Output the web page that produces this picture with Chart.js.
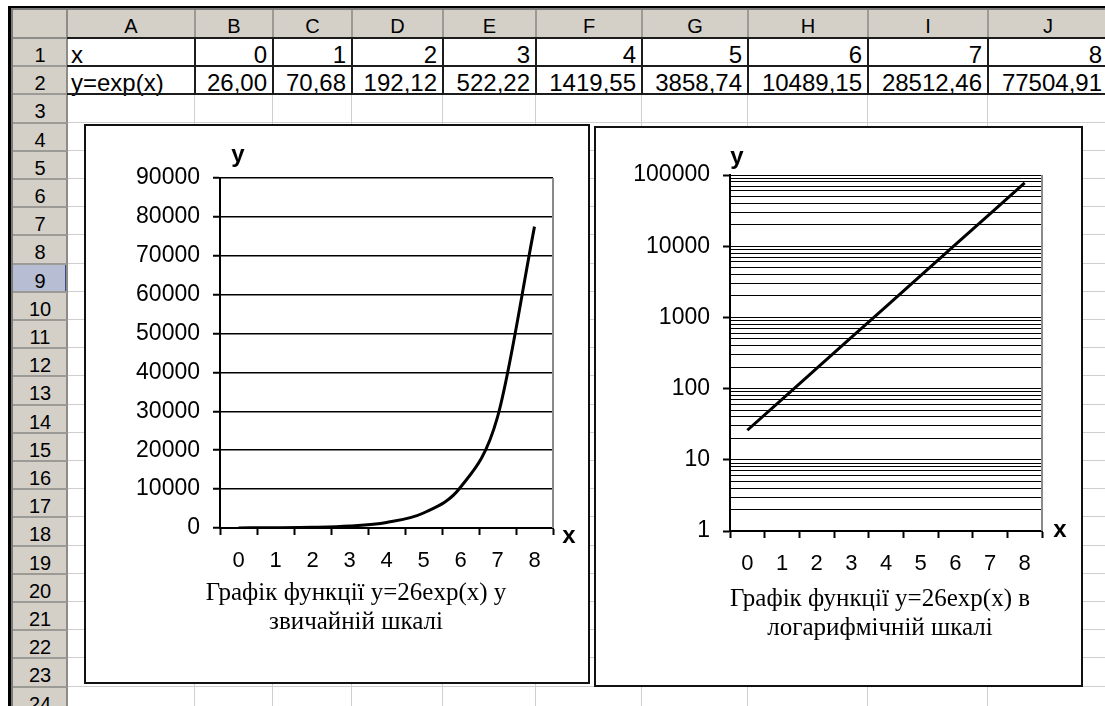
<!DOCTYPE html>
<html>
<head>
<meta charset="utf-8">
<script src="https://cdn.jsdelivr.net/npm/chart.js@4.4.1/dist/chart.umd.min.js"></script>
<style>
  html, body { margin: 0; padding: 0; background: #fff; width: 1105px; height: 706px; overflow: hidden; }
  #sheet { position: absolute; left: 0; top: 0; width: 1105px; height: 706px; overflow: hidden;
           font-family: "Liberation Sans", Arial, sans-serif; }
  .abs { position: absolute; box-sizing: border-box; }
  .txt { position: absolute; white-space: nowrap; color: #000; }
  .chartbox { position: absolute; background: #fff; border: 2px solid #111; box-sizing: border-box; }
  .chartbox canvas { position: absolute; left: 0; top: 0; }
</style>
</head>
<body>
<div id="sheet"></div>
<script>
// ---- worksheet values ----
const xValues = [0, 1, 2, 3, 4, 5, 6, 7, 8];
const yValues = [26.00, 70.68, 192.12, 522.22, 1419.55, 3858.74, 10489.15, 28512.46, 77504.91];
const rowLabels = ['x', 'y=exp(x)'];
const columnLetters = ['A', 'B', 'C', 'D', 'E', 'F', 'G', 'H', 'I', 'J'];
const linearTicks = [0, 10000, 20000, 30000, 40000, 50000, 60000, 70000, 80000, 90000];
const logDecadeTicks = [1, 10, 100, 1000, 10000, 100000];
const captionLinear = ['Графік функції y=26exp(x) у', 'звичайній шкалі'];
const captionLog = ['Графік функції y=26exp(x) в', 'логарифмічній шкалі'];

// ---- grid geometry ----
const colEdges = [67, 195, 273, 352, 443, 536, 642, 748, 868, 988, 1108];
const headTop = 10, firstRowTop = 38, rowH = 28.2, rowCount = 24;
const sheet = document.getElementById('sheet');

function box(l, t, w, h, style) {
  const d = document.createElement('div');
  d.className = 'abs';
  Object.assign(d.style, { left: l + 'px', top: t + 'px', width: w + 'px', height: h + 'px' }, style || {});
  sheet.appendChild(d);
  return d;
}
function text(str, l, t, w, h, style) {
  const d = document.createElement('div');
  d.className = 'txt';
  d.textContent = str;
  Object.assign(d.style, { left: l + 'px', top: t + 'px', width: w + 'px', height: h + 'px',
                           lineHeight: h + 'px' }, style || {});
  sheet.appendChild(d);
  return d;
}
const rowTop = n => firstRowTop + (n - 1) * rowH;

// header backgrounds
box(13, headTop, 1092, 28, { background: '#d4d0c8' });
box(13, firstRowTop, 54, 706 - firstRowTop, { background: '#d4d0c8' });

// light cell gridlines
for (let i = 1; i < colEdges.length; i++) {
  box(colEdges[i] - 1, firstRowTop, 1, 706 - firstRowTop, { background: '#cfcfcf' });
}
for (let n = 1; n <= rowCount; n++) {
  box(67, Math.round(rowTop(n) + rowH) - 1, 1040, 1, { background: '#cfcfcf' });
}

// selected row header
box(13, Math.round(rowTop(9)), 54, Math.round(rowH), { background: '#b7bdd3',
  borderRight: '2px solid #3b4a86', borderBottom: '1px solid #3b4a86' });

// header separators
for (let i = 0; i < colEdges.length; i++) {
  box(colEdges[i] - 1, headTop, 2, 28, { background: '#9c9a94' });
}
box(66, headTop, 2, 706 - headTop, { background: '#8e8c86' });
box(13, firstRowTop - 1, 1092, 2, { background: '#8e8c86' });
for (let n = 1; n <= rowCount; n++) {
  box(13, Math.round(rowTop(n) + rowH) - 1, 54, 2, { background: '#9c9a94' });
}

// window frame
box(8, 6, 1097, 2, { background: '#000' });
box(8, 6, 3, 700, { background: '#000' });
box(11, 8, 1094, 2, { background: '#7a7a7a' });
box(11, 8, 2, 698, { background: '#7a7a7a' });

// column and row header labels
columnLetters.forEach((c, i) => {
  text(c, colEdges[i], headTop + 2, colEdges[i + 1] - colEdges[i], 28, { textAlign: 'center', fontSize: '20px' });
});
for (let n = 1; n <= rowCount; n++) {
  text(String(n), 13, rowTop(n) + 3, 54, rowH, { textAlign: 'center', fontSize: '20px' });
}

// table rows 1-2 with their values
const fmt = v => v.toFixed(2).replace('.', ',');
text(rowLabels[0], colEdges[0] + 4, rowTop(1) + 3, 120, rowH, { fontSize: '24px' });
text(rowLabels[1], colEdges[0] + 4, rowTop(2) + 3, 120, rowH, { fontSize: '24px' });
xValues.forEach((x, i) => {
  const l = colEdges[i + 1], w = colEdges[i + 2] - colEdges[i + 1];
  text(String(x), l, rowTop(1) + 3, w - 6, rowH, { fontSize: '24px', textAlign: 'right' });
  text(fmt(yValues[i]), l, rowTop(2) + 3, w - 6, rowH, { fontSize: '24px', textAlign: 'right' });
});
// bordered table
[rowTop(1), rowTop(2), rowTop(3)].forEach(y => box(colEdges[0], Math.round(y) - 1, 1040, 2, { background: '#1c1c1c' }));
for (let i = 1; i < colEdges.length; i++) {
  box(colEdges[i] - 1, rowTop(1) - 1, 2, Math.round(rowH * 2) + 2, { background: '#1c1c1c' });
}

// ---- charts ----
function makeBox(l, t, w, h) {
  const d = document.createElement('div');
  d.className = 'chartbox';
  Object.assign(d.style, { left: l + 'px', top: t + 'px', width: w + 'px', height: h + 'px' });
  const c = document.createElement('canvas');
  c.width = w - 4; c.height = h - 4;
  c.style.width = (w - 4) + 'px'; c.style.height = (h - 4) + 'px';
  d.appendChild(c);
  sheet.appendChild(d);
  return c;
}

const sansFont = '"Liberation Sans", Arial, sans-serif';
const serifFont = '"Liberation Serif", "Times New Roman", serif';

// axis names, captions and the plot-area frame line
const sheetDecor = {
  id: 'sheetDecor',
  beforeDatasetsDraw(chart, args, o) {
    const { ctx, chartArea: a } = chart;
    ctx.save();
    ctx.strokeStyle = '#8a8a8a';
    ctx.lineWidth = 2;
    ctx.beginPath();
    ctx.moveTo(a.right, a.top);
    ctx.lineTo(a.right, a.bottom);
    ctx.stroke();
    ctx.restore();
  },
  afterDraw(chart, args, o) {
    const { ctx, chartArea: a } = chart;
    ctx.save();
    ctx.fillStyle = '#000';
    ctx.textAlign = 'center';
    ctx.textBaseline = 'middle';
    ctx.font = 'bold 24px ' + sansFont;
    ctx.fillText('y', a.left + o.yDx, a.top + o.yDy);
    ctx.fillText('x', a.right + o.xDx, a.bottom + o.xDy);
    ctx.font = o.capSize + 'px ' + serifFont;
    o.caption.forEach((line, i) => {
      ctx.fillText(line, a.left + o.capDx, a.bottom + o.capDy + i * o.capLh);
    });
    ctx.restore();
  }
};

const tickFont = { family: sansFont, size: 23 };
const xTickFont = { family: sansFont, size: 22 };

function xScale() {
  return {
    type: 'category',
    offset: true,
    grid: { offset: true, drawOnChartArea: false, drawTicks: true, tickLength: 7, tickColor: '#000', tickWidth: 2 },
    border: { color: '#000', width: 2 },
    ticks: { padding: 13, color: '#000', font: xTickFont, maxRotation: 0, autoSkip: false },
    afterFit: s => { s.height = 154; }
  };
}

// ordinary scale
new Chart(makeBox(84, 124, 506, 560), {
  type: 'line',
  data: {
    labels: xValues.map(String),
    datasets: [{ data: yValues, borderColor: '#000', borderWidth: 3, pointRadius: 0,
                 cubicInterpolationMode: 'monotone', fill: false }]
  },
  options: {
    responsive: false, animation: false, devicePixelRatio: 1,
    layout: { padding: { left: 0, top: 52, right: 35, bottom: 0 } },
    plugins: {
      legend: { display: false }, tooltip: { enabled: false },
      sheetDecor: { yDx: 18, yDy: -23, xDx: 16, xDy: 8, capDx: 136, capDy: 65, capLh: 29, capSize: 25, caption: captionLinear }
    },
    scales: {
      x: xScale(),
      y: {
        type: 'linear', min: 0, max: 90000,
        afterBuildTicks: s => { s.ticks = linearTicks.map(v => ({ value: v })); },
        grid: { color: '#000', lineWidth: 1.5, tickLength: 7, tickColor: '#000', tickWidth: 2 },
        border: { color: '#000', width: 2 },
        ticks: { padding: 13, color: '#000', font: tickFont, autoSkip: false, callback: v => String(v) },
        afterFit: s => { s.width = 134; }
      }
    }
  },
  plugins: [sheetDecor]
});

// logarithmic scale
const isDecade = v => logDecadeTicks.includes(v);
new Chart(makeBox(594, 126, 489, 561), {
  type: 'line',
  data: {
    labels: xValues.map(String),
    datasets: [{ data: yValues, borderColor: '#000', borderWidth: 3, pointRadius: 0, tension: 0, fill: false }]
  },
  options: {
    responsive: false, animation: false, devicePixelRatio: 1,
    layout: { padding: { left: 0, top: 47, right: 39, bottom: 0 } },
    plugins: {
      legend: { display: false }, tooltip: { enabled: false },
      sheetDecor: { yDx: 7, yDy: -18, xDx: 18, xDy: -1, capDx: 150, capDy: 68, capLh: 29, capSize: 25, caption: captionLog }
    },
    scales: {
      x: xScale(),
      y: {
        type: 'logarithmic', min: 1, max: 100000,
        afterBuildTicks: s => {
          const t = [];
          logDecadeTicks.forEach((d, i) => {
            t.push({ value: d, major: true });
            if (i < logDecadeTicks.length - 1) for (let k = 2; k <= 9; k++) t.push({ value: d * k });
          });
          s.ticks = t;
        },
        grid: { color: '#000', lineWidth: 1, tickLength: 7, tickWidth: 2,
                tickColor: c => (c.tick && isDecade(c.tick.value)) ? '#000' : 'rgba(0,0,0,0)' },
        border: { color: '#000', width: 2 },
        ticks: { padding: 13, color: '#000', font: tickFont, autoSkip: false,
                 callback: v => isDecade(v) ? String(v) : '' },
        afterFit: s => { s.width = 134; }
      }
    }
  },
  plugins: [sheetDecor]
});
</script>
</body>
</html>
